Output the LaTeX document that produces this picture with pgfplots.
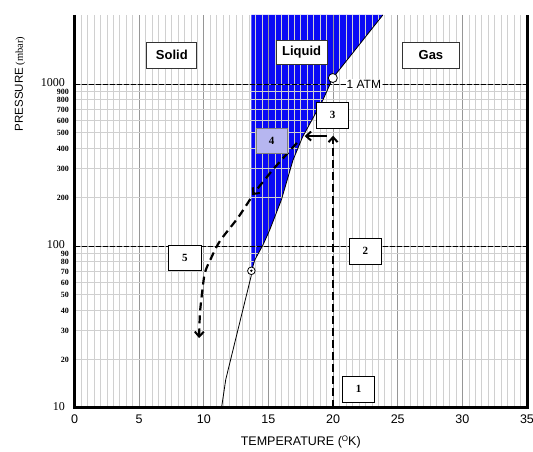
\documentclass[border=0pt]{standalone}
\usepackage{fontspec}
\setmainfont{Liberation Serif}
\setsansfont{Liberation Sans}
\usepackage{pgfplots}
\pgfplotsset{compat=1.18}
\usetikzlibrary{arrows.meta}
\definecolor{liqblue}{RGB}{10,10,245}
\definecolor{minorgrid}{RGB}{208,208,208}
\definecolor{majorgrid}{RGB}{150,150,150}
\definecolor{boxfour}{RGB}{182,182,240}
\tikzset{stepbox/.style={draw=black, fill=white, line width=0.6pt, minimum width=32pt, minimum height=26pt, inner sep=0pt, font=\bfseries\fontsize{11}{11}\selectfont}}
\begin{document}
\begin{tikzpicture}
\begin{axis}[
  set layers,
  scale only axis,
  width=452.5pt, height=393pt,
  at={(0pt,0pt)}, anchor=south west,
  xmin=0, xmax=35, ymin=10, ymax=2667,
  ymode=log,
  axis line style={draw=none},
  major tick length=0pt, minor tick length=0pt,
  xtick={0,5,...,35},
  minor x tick num=9,
  /pgf/number format/assume math mode=true,
  xticklabel style={font=\sffamily\fontsize{12.5}{12.5}\selectfont, yshift=-3pt},
  ytick={10,100,1000},
  yticklabels={10,100,1000},
  yticklabel style={font=\fontsize{12}{12}\selectfont, anchor=east, inner sep=0pt, xshift=-9.5pt, yshift=1pt},
  extra y ticks={20,30,40,50,60,70,80,90,200,300,400,500,600,700,800,900},
  extra y tick labels={20,30,40,50,60,70,80,90,200,300,400,500,600,700,800,900},
  extra y tick style={grid=none, yticklabel style={font=\fontsize{8}{8}\selectfont\bfseries, xshift=4pt, yshift=-1.5pt}},
  grid=both,
  minor grid style={draw=minorgrid, line width=0.6pt},
  major grid style={draw=majorgrid, line width=0.9pt},
  clip=false,
]
% liquid region
\addplot[on layer=axis background, fill=liqblue, draw=none] coordinates {
  (13.69,2667) (13.69,73) (13.76,73.1) (13.94,81.9) (14.58,101.6) (15.1,125.6)
  (16.0,192.6) (16.9,339) (17.64,471) (19.21,796) (19.98,1089) (23.85,2667)};
% boiling curve edge
\addplot[black, line width=0.8pt] coordinates {
  (13.76,73.1) (13.94,81.9) (14.58,101.6) (15.1,125.6)
  (16.0,192.6) (16.9,339) (17.64,471) (19.21,796) (19.98,1089) (23.85,2667)};
% sublimation curve
\addplot[black, line width=0.8pt] coordinates {(13.68,66) (12.83,35) (11.7,15) (11.37,10)};
% dashed reference lines
\addplot[black, line width=0.8pt, dash pattern=on 5pt off 2pt] coordinates {(0,100) (35,100)};
\addplot[black, line width=0.8pt, dash pattern=on 5pt off 2pt] coordinates {(0,1000) (35,1000)};
% axis frame
\draw[black, line width=3pt] (rel axis cs:0,1) -- (rel axis cs:0,0) -- (rel axis cs:1,0) -- (rel axis cs:1,1);
% process arrows
\addplot[black, line width=2.2pt, dash pattern=on 8pt off 4pt, -{Straight Barb[length=5pt,width=9pt,line width=2pt]}]
  coordinates {(20,10) (20,480)};
\addplot[black, line width=2.2pt, -{Straight Barb[length=5pt,width=9pt,line width=2pt]}]
  coordinates {(19.5,477) (17.8,477)};
\addplot[black, line width=2.2pt, dash pattern=on 8pt off 5pt, -{Straight Barb[length=5pt,width=9pt,line width=2pt]}]
  coordinates {(17.2,433) (15.4,300) (13.75,206)};
\addplot[black, line width=2.2pt, dash pattern=on 8pt off 5pt, smooth, -{Straight Barb[length=5pt,width=9pt,line width=2pt]}]
  coordinates {(13.6,195) (12.63,149) (11.24,107) (10.5,82) (10.08,68) (9.85,50) (9.7,38) (9.64,27)};
% points
\addplot[only marks, mark=*, mark size=4.5pt, mark options={fill=white, draw=black, line width=0.8pt}] coordinates {(19.98,1089)};
\addplot[only marks, mark=*, mark size=3.8pt, mark options={fill=white, draw=black, line width=0.8pt}] coordinates {(13.68,70.3)};
\addplot[only marks, mark=*, mark size=1pt, mark options={fill=black, draw=black}] coordinates {(13.68,70.3)};
% phase labels
\node[draw=black!80, fill=white, line width=0.8pt, minimum width=50pt, minimum height=26pt, inner sep=0pt,
  font=\sffamily\bfseries\fontsize{13}{13}\selectfont] at (axis cs:7.53,1510) {Solid};
\node[draw=black!80, fill=white, line width=0.8pt, minimum width=51pt, minimum height=24pt, inner sep=0pt,
  font=\sffamily\bfseries\fontsize{13}{13}\selectfont] at (axis cs:17.57,1577) {Liquid};
\node[draw=black!80, fill=white, line width=0.8pt, minimum width=57pt, minimum height=26pt, inner sep=0pt,
  font=\sffamily\bfseries\fontsize{13}{13}\selectfont] at (axis cs:27.57,1510) {Gas};
\node[fill=white, inner sep=1pt, anchor=west, font=\sffamily\fontsize{12}{12}\selectfont] at (axis cs:20.95,1000) {1 ATM};
% step labels
\node[stepbox] at (axis cs:21.97,13.1) {1};
\node[stepbox] at (axis cs:22.5,93) {2};
\node[stepbox] at (axis cs:19.96,644) {3};
\node[stepbox, fill=boxfour, draw=black!50, minimum height=25pt, minimum width=31pt] at (axis cs:15.25,445) {4};
\node[stepbox, minimum width=33pt, minimum height=25pt] at (axis cs:8.53,84.4) {5};
% axis titles
\node[font=\sffamily\fontsize{12.5}{12.5}\selectfont] at ([yshift=-34pt]rel axis cs:0.5,0) {TEMPERATURE (\raisebox{0.6ex}{\fontsize{8}{8}\selectfont O}K)};
\node[rotate=90, anchor=center] at ([xshift=-54.5pt]axis cs:0,1000) {{\sffamily\fontsize{11.5}{11.5}\selectfont PRESSURE} {\fontsize{10.5}{10.5}\selectfont(mbar)}};
\end{axis}
\pgfresetboundingbox
\path[use as bounding box] (-74.5pt,-44pt) rectangle (458.5pt,408pt);
\end{tikzpicture}
\end{document}
